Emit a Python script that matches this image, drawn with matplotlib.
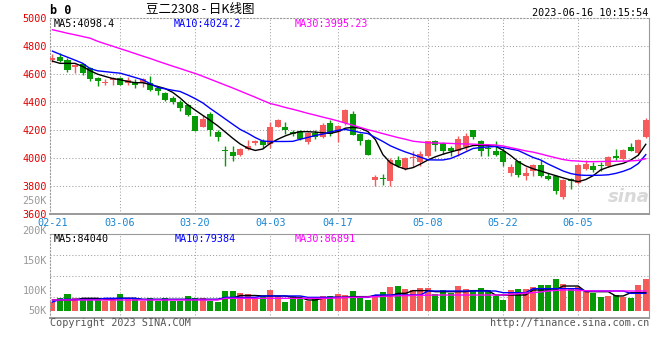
import numpy as np
import matplotlib
matplotlib.use('Agg')
import matplotlib.pyplot as plt
from matplotlib.transforms import blended_transform_factory, ScaledTranslation

# ---- values (one entry per trading day, 02-21 .. 06-16) ----
opens = [4700, 4719, 4700, 4652, 4671, 4641, 4571, 4536, 4557, 4571,
         4538, 4543, 4533, 4538, 4502, 4467, 4426, 4402, 4379, 4300,
         4224, 4317, 4183, 4059, 4040, 4024, 4064, 4107, 4119, 4100,
         4221, 4224, 4188, 4190, 4117, 4181, 4150, 4250, 4183, 4250,
         4317, 4174, 4131, 3840, 3853, 3833, 3988, 3924, 3997, 3969,
         4012, 4124, 4107, 4071, 4048, 4078, 4202, 4124, 4067, 4048,
         4048, 3893, 3976, 3869, 3905, 3952, 3869, 3874, 3719, 3850,
         3821, 3924, 3945, 3945, 3945, 4017, 3993, 4076, 4036, 4148]
highs = [4743, 4748, 4712, 4671, 4681, 4652, 4581, 4562, 4576, 4581,
         4576, 4562, 4571, 4586, 4510, 4474, 4443, 4414, 4383, 4302,
         4305, 4326, 4202, 4083, 4088, 4071, 4131, 4131, 4136, 4255,
         4276, 4255, 4198, 4202, 4188, 4202, 4250, 4274, 4238, 4350,
         4336, 4178, 4136, 3881, 3888, 4000, 4017, 4005, 4048, 4048,
         4124, 4131, 4112, 4088, 4155, 4178, 4202, 4131, 4095, 4119,
         4071, 3959, 3981, 3933, 3959, 3988, 3893, 3881, 3850, 3857,
         3959, 3988, 3969, 3969, 4012, 4064, 4064, 4107, 4136, 4286]
lows = [4688, 4686, 4617, 4605, 4593, 4550, 4514, 4521, 4521, 4519,
        4519, 4502, 4510, 4479, 4450, 4407, 4386, 4336, 4300, 4190,
        4220, 4160, 4124, 3945, 3976, 4017, 4059, 4090, 4071, 4069,
        4221, 4171, 4155, 4126, 4102, 4136, 4143, 4159, 4114, 4238,
        4164, 4090, 4019, 3798, 3805, 3802, 3936, 3917, 3936, 3940,
        4007, 4048, 4031, 4012, 4012, 4059, 4138, 4012, 4012, 4012,
        3940, 3869, 3864, 3845, 3874, 3864, 3840, 3743, 3707, 3778,
        3814, 3917, 3898, 3909, 3936, 3988, 3988, 4048, 4028, 4143]
closes = [4712, 4693, 4629, 4667, 4610, 4564, 4552, 4541, 4569, 4524,
          4557, 4524, 4562, 4486, 4479, 4414, 4400, 4357, 4307, 4193,
          4281, 4198, 4148, 4047, 4012, 4067, 4088, 4119, 4090, 4224,
          4274, 4198, 4171, 4136, 4176, 4150, 4238, 4174, 4231, 4345,
          4167, 4119, 4024, 3864, 3848, 3988, 3945, 4000, 4002, 4031,
          4119, 4095, 4048, 4048, 4136, 4159, 4148, 4048, 4062, 4019,
          3969, 3933, 3881, 3893, 3952, 3874, 3850, 3762, 3840, 3833,
          3952, 3959, 3917, 3940, 4005, 3997, 4059, 4052, 4131, 4274]

ma5 = [4692, 4676, 4676, 4676, 4654, 4624, 4599, 4583, 4568, 4559,
       4547, 4538, 4538, 4525, 4511, 4496, 4469, 4428, 4380, 4342,
       4305, 4269, 4230, 4186, 4141, 4100, 4070, 4054, 4064, 4105,
       4134, 4158, 4177, 4188, 4188, 4185, 4180, 4176, 4188, 4213,
       4219, 4213, 4189, 4131, 4024, 3966, 3939, 3920, 3931, 3957,
       3986, 4009, 4027, 4043, 4057, 4074, 4089, 4091, 4088, 4084,
       4055, 4018, 3974, 3944, 3923, 3907, 3890, 3874, 3858, 3843,
       3831, 3846, 3874, 3915, 3935, 3950, 3962, 3985, 4020, 4098]
ma10 = [4763, 4741, 4720, 4699, 4677, 4639, 4623, 4617, 4611, 4606,
        4591, 4575, 4559, 4532, 4504, 4494, 4484, 4475, 4451, 4424,
        4394, 4354, 4317, 4279, 4241, 4204, 4177, 4146, 4121, 4118,
        4118, 4118, 4119, 4134, 4147, 4161, 4171, 4186, 4198, 4204,
        4194, 4182, 4175, 4146, 4118, 4087, 4064, 4043, 4025, 4006,
        3987, 3986, 3986, 3996, 4018, 4043, 4068, 4075, 4079, 4082,
        4075, 4064, 4054, 4029, 4004, 3986, 3957, 3932, 3907, 3889,
        3879, 3876, 3876, 3877, 3880, 3890, 3905, 3925, 3960, 4024]
ma30 = [4916, 4904, 4891, 4880, 4868, 4856, 4834, 4816, 4799, 4781,
        4764, 4746, 4728, 4711, 4692, 4674, 4656, 4639, 4621, 4604,
        4584, 4563, 4542, 4521, 4500, 4478, 4456, 4434, 4411, 4389,
        4376, 4361, 4348, 4334, 4319, 4306, 4292, 4279, 4265, 4249,
        4234, 4218, 4202, 4189, 4174, 4160, 4146, 4134, 4120, 4114,
        4109, 4107, 4106, 4104, 4102, 4100, 4099, 4096, 4095, 4093,
        4086, 4074, 4063, 4051, 4042, 4029, 4015, 4002, 3989, 3981,
        3978, 3974, 3974, 3975, 3976, 3977, 3978, 3979, 3983, 3995]

# volume panel, in K
volumes = [82, 88, 95, 88, 88, 89, 88, 84, 88, 95,
           88, 86, 84, 89, 84, 89, 84, 84, 92, 89,
           89, 84, 82, 100, 100, 97, 95, 88, 92, 102,
           92, 82, 92, 88, 84, 88, 92, 92, 95, 93,
           100, 89, 85, 93, 98, 107, 108, 103, 101, 105,
           105, 95, 102, 97, 108, 103, 102, 105, 102, 92,
           85, 102, 103, 103, 107, 110, 110, 120, 112, 105,
           107, 100, 97, 90, 92, 93, 90, 88, 110, 120]
vol_ma5 = [85, 85, 85, 85, 87.8, 87.8, 87.8, 86, 86, 87.8,
           87.8, 87.8, 86, 86, 86, 86, 86, 86, 86, 86,
           86, 86, 86, 87.8, 87.8, 92.5, 92.5, 92.5, 91.7, 91.7,
           91.7, 91.7, 89.4, 89.4, 85, 85, 87.8, 89.4, 89.4, 89.4,
           90.6, 90.6, 90.6, 91.7, 91.7, 91.7, 96.1, 96.1, 100.6, 100.6,
           100.6, 98.9, 98.9, 98.9, 98.9, 98.9, 100.6, 100.6, 100.6, 93.3,
           93.3, 93.3, 93.3, 93.3, 101.7, 101.7, 101.7, 101.7, 108.3, 108.3,
           108.3, 98.9, 98.9, 98.9, 98.9, 91.7, 91.7, 97.2, 97.2, 97.2]
vol_ma10 = [81.7, 86, 86, 86, 86, 86, 86, 87.8, 87.8, 87.8,
            87.8, 87.8, 86, 86, 86, 86, 86, 86, 86, 86,
            86, 86, 86, 89.4, 89.4, 89.4, 89.4, 89.4, 91.7, 91.7,
            91.7, 91.7, 91.7, 91.7, 89.4, 89.4, 89.4, 89.4, 89.4, 89.4,
            89.4, 89.4, 89.4, 93.3, 93.3, 93.3, 93.3, 93.3, 93.3, 93.3,
            100, 100, 100, 100, 100, 100, 100, 100, 100, 100,
            97.2, 97.2, 97.2, 97.2, 103.9, 103.9, 103.9, 103.9, 103.9, 103.9,
            103.9, 100, 100, 100, 100, 100, 100, 96.1, 96.1, 96.1]
vol_ma30 = [85, 85, 85, 85, 85, 85, 85, 85, 85, 85,
            85, 85, 85, 85, 85, 85, 85, 85, 85, 85,
            85, 85, 85, 87.8, 87.8, 87.8, 87.8, 87.8, 87.8, 87.8,
            87.8, 87.8, 87.8, 87.8, 87.8, 87.8, 87.8, 88, 88.5, 89,
            89.4, 89.6, 90, 90.5, 91, 91.5, 92, 92.2, 92.5, 92.8,
            93, 93.3, 93.3, 93.3, 93.3, 93.3, 93.3, 93.3, 93.3, 93.3,
            93.3, 94.5, 95.5, 96.5, 97.2, 98.5, 100, 101, 101.7, 101.7,
            101, 100.5, 100, 100, 100, 100, 100, 100, 100, 100]

tick_idx = [0, 9, 19, 29, 38, 50, 60, 70]
tick_labels = ['02-21', '03-06', '03-20', '04-03', '04-17', '05-08', '05-22', '06-05']
price_ticks = [3600, 3800, 4000, 4200, 4400, 4600, 4800, 5000]
vol_ticks = [250, 200, 150, 100, 50]

title = '豆二2308 - 日K线图'
stamp = '2023-06-16 10:15:54'
ma_texts = ['MA5:4098.4', 'MA10:4024.2', 'MA30:3995.23']
vol_ma_texts = ['MA5:84040', 'MA10:79384', 'MA30:86891']

# ---- style ----
W, H = 660, 360
RED = '#f65b5b'
GREEN = '#069b06'
MA_COLORS = ['black', '#0000ff', '#ff00ff']
GRID = '#a0a0a0'
DOT = (0, (1, 2))
MONO = 'DejaVu Sans Mono'
FS = 7.3
VOL_BASE = 66.7

fig = plt.figure(figsize=(W / 100, H / 100), dpi=100)
fig.patch.set_facecolor('white')


def fx(x):
    return x / W


def fy(y):
    return 1 - y / H


ax = fig.add_axes([fx(50), fy(214), 599 / W, 196 / H])
axv = fig.add_axes([fx(50), fy(318), 599 / W, 84 / H])

n = len(closes)
x = np.arange(n)
o = np.array(opens)
c = np.array(closes)
colors = np.where(c >= o, RED, GREEN)

for a in (ax, axv):
    a.set_xlim(-0.33, n - 1 + 0.43)
    for t in tick_idx[1:]:
        a.axvline(t, color=GRID, ls=DOT, lw=0.75, zorder=0)
    for side in ['top', 'left', 'right', 'bottom']:
        a.spines[side].set_color('#999999')
    a.spines['left'].set_linestyle(DOT)
    a.spines['bottom'].set_linewidth(1.4)

# price panel
ax.set_ylim(price_ticks[0], price_ticks[-1])
ax.spines['top'].set_linestyle(DOT)
for v in price_ticks[1:-1]:
    ax.axhline(v, color=GRID, ls=DOT, lw=0.75, zorder=0)

ax.vlines(x, lows, highs, colors=colors, lw=1.0, zorder=2)
body = np.maximum(np.abs(c - o), 9)
ax.bar(x, body, bottom=np.minimum(o, c), width=0.8, color=colors, lw=0, zorder=3)

for series, col in zip([ma5, ma10, ma30], MA_COLORS):
    ax.plot(x, series, color=col, lw=1.0, zorder=4)

ax.set_yticks(price_ticks)
ax.set_yticklabels([str(v) for v in price_ticks], color='#e00000', family=MONO, fontsize=FS)
up = ScaledTranslation(0, 1.5 / 100, fig.dpi_scale_trans)
for lab in ax.get_yticklabels():
    lab.set_transform(lab.get_transform() + up)
ax.set_xticks(tick_idx)
ax.set_xticklabels(tick_labels, color='#1a84d0', family=MONO, fontsize=FS)
ax.tick_params(axis='y', length=0, pad=2)
ax.tick_params(axis='x', length=0, pad=3)

for txt, col, px in zip(ma_texts, MA_COLORS, [54, 174, 295]):
    fig.text(fx(px), fy(24), txt, color=col, family=MONO, fontsize=FS, va='center')

ax.text(0.967, 0.085, 'sina', transform=ax.transAxes, ha='center', va='center',
        color='#d9d9d9', fontsize=13, fontstyle='italic', fontweight='bold', zorder=1)

# volume panel
axv.set_ylim(55, 195)
lo, hi = axv.get_ylim()
for k in range(1, 4):
    axv.axhline(lo + (hi - lo) * k / 4, color=GRID, ls=DOT, lw=0.75, zorder=0)

axv.bar(x, np.array(volumes) - VOL_BASE, bottom=VOL_BASE, width=0.8, color=colors, lw=0, zorder=2)
for series, col in zip([vol_ma5, vol_ma10, vol_ma30], MA_COLORS):
    axv.plot(x, series, color=col, lw=1.0, zorder=3)

axv.set_xticks([])
axv.set_yticks([])

tr = blended_transform_factory(fig.transFigure, axv.transData)
for v in vol_ticks:
    axv.text(fx(47), max(v, VOL_BASE), '%dK' % v, transform=tr, ha='right', va='center',
             color='#999999', family=MONO, fontsize=FS, clip_on=False)

for txt, col, px in zip(vol_ma_texts, MA_COLORS, [54, 175, 295]):
    fig.text(fx(px), fy(238.5), txt, color=col, family=MONO, fontsize=FS, va='center')

# header and footer
fig.text(fx(50), fy(10), 'b 0', family=MONO, fontweight='bold', fontsize=8.5, va='center')
fig.text(fx(200), fy(10), title, family=['Noto Sans CJK SC', 'DejaVu Sans'], fontsize=9,
         ha='center', va='center')
fig.text(fx(648), fy(12.5), stamp, family=MONO, fontsize=FS, ha='right', va='center')
fig.text(fx(50), fy(323.5), 'Copyright 2023 SINA.COM', family=MONO, fontsize=FS,
         color='#555555', va='center')
fig.text(fx(649), fy(323.5), 'http://finance.sina.com.cn', family=MONO, fontsize=FS,
         color='#555555', ha='right', va='center')

fig.savefig('out.png', dpi=100, facecolor='white')
